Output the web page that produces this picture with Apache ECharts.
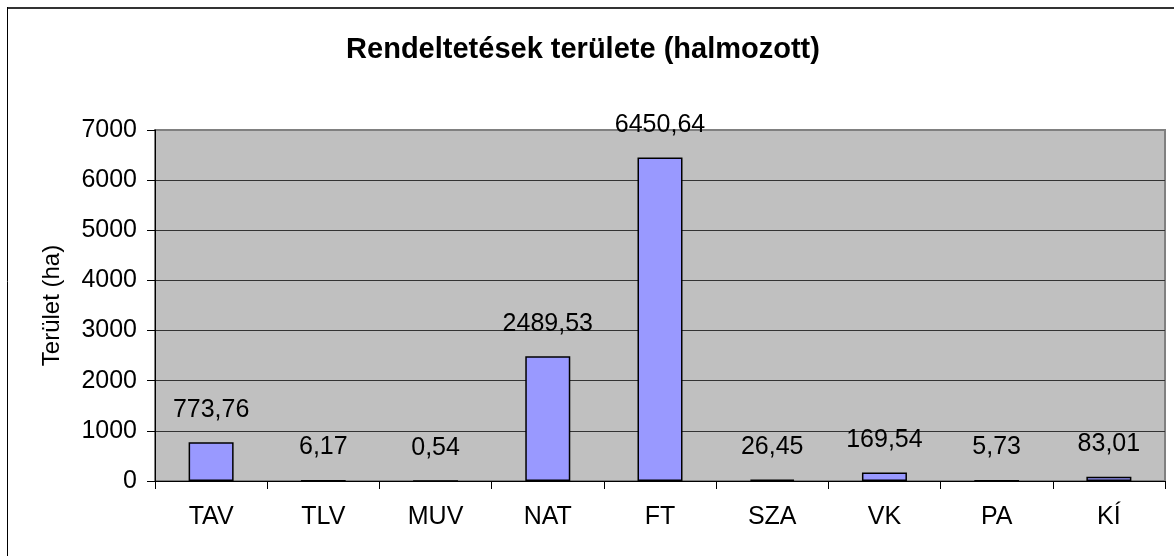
<!DOCTYPE html>
<html>
<head>
<meta charset="utf-8">
<script src="https://cdn.jsdelivr.net/npm/echarts@6/dist/echarts.min.js"></script>
<style>
  html, body { margin: 0; padding: 0; background: #fff; }
  #container { width: 1174px; height: 556px; }
</style>
</head>
<body>
<div id="container"></div>
<script>
var categories = ['TAV', 'TLV', 'MUV', 'NAT', 'FT', 'SZA', 'VK', 'PA', 'KÍ'];
var areaValues = [773.76, 6.17, 0.54, 2489.53, 6450.64, 26.45, 169.54, 5.73, 83.01];
var titleText = 'Rendeltetések területe (halmozott)';
var yName = 'Terület (ha)';

var font = 'Arial, "Liberation Sans", sans-serif';
var myChart = echarts.init(document.getElementById('container'));
var option = {
    backgroundColor: '#fff',
    animation: false,
    title: {
        text: titleText,
        left: 578,
        top: 30,
        textAlign: 'center',
        textStyle: { fontFamily: font, fontSize: 29, fontWeight: 'bold', color: '#000' }
    },
    graphic: [
        { type: 'line', shape: { x1: 7, y1: 8, x2: 1174, y2: 8 }, style: { stroke: '#333', lineWidth: 2 } },
        { type: 'line', shape: { x1: 7.5, y1: 7, x2: 7.5, y2: 556 }, style: { stroke: '#000', lineWidth: 1 } }
    ],
    grid: {
        left: 155,
        right: 9,
        top: 130,
        bottom: 75,
        show: true,
        backgroundColor: '#C0C0C0',
        borderColor: '#808080',
        borderWidth: 2
    },
    xAxis: {
        type: 'category',
        data: categories,
        axisLine: { lineStyle: { color: '#000', width: 1 } },
        axisTick: { show: true, length: 8, lineStyle: { color: '#000' } },
        axisLabel: { margin: 24, fontFamily: font, fontSize: 25, color: '#000' }
    },
    yAxis: {
        type: 'value',
        min: 0,
        max: 7000,
        interval: 1000,
        name: yName,
        nameLocation: 'middle',
        nameGap: 91,
        nameTextStyle: { fontFamily: font, fontSize: 24, color: '#000' },
        axisLine: { show: true, lineStyle: { color: '#000', width: 1 } },
        axisTick: { show: true, length: 8, lineStyle: { color: '#000' } },
        axisLabel: {
            margin: 18, fontFamily: font, fontSize: 25, color: '#000',
            formatter: function (v) { return String(v); }
        },
        splitLine: { show: true, showMaxLine: false, lineStyle: { color: '#333', width: 1 } }
    },
    series: [{
        type: 'bar',
        data: areaValues,
        barWidth: 45,
        itemStyle: { color: '#9999FF', borderColor: '#000', borderWidth: 1.5 },
        label: {
            show: true,
            position: 'top',
            distance: 20,
            fontFamily: font,
            fontSize: 25,
            color: '#000',
            formatter: function (p) {
                return p.value.toFixed(2).replace('.', ',');
            }
        }
    }]
};
myChart.setOption(option);
</script>
</body>
</html>
